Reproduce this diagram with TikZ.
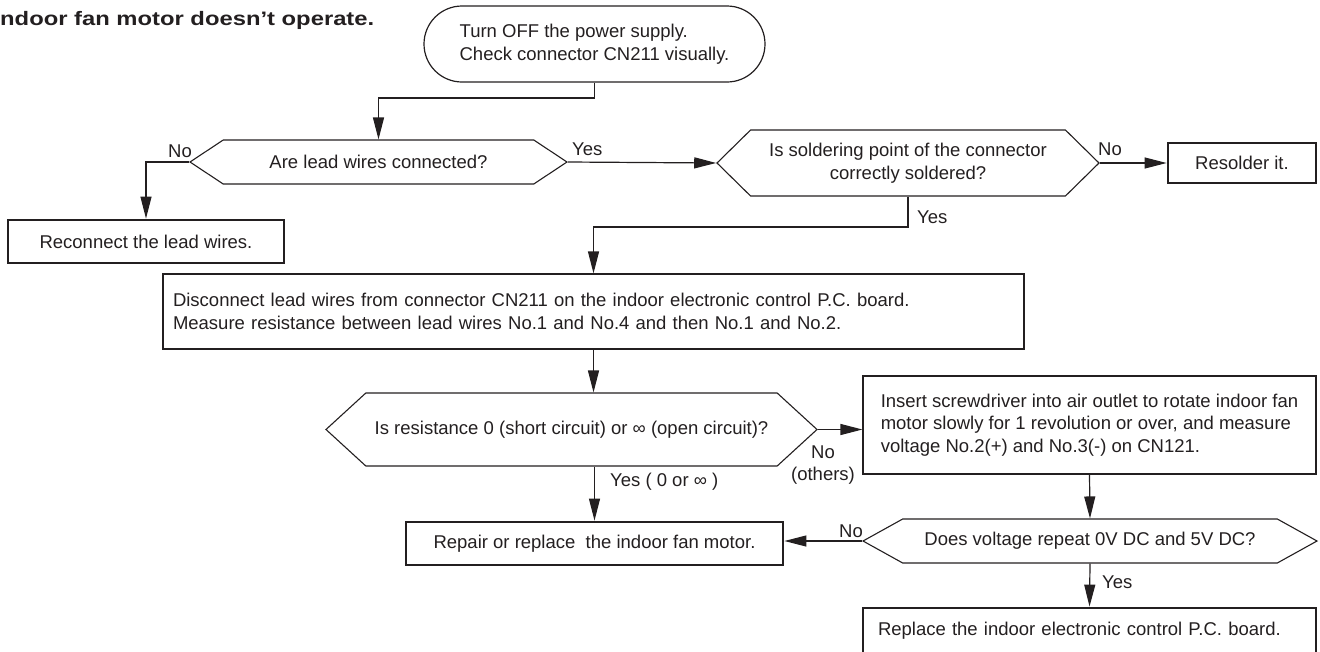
\documentclass[tikz,border=0pt]{standalone}
\usepackage{fontspec}
\setmainfont{Liberation Sans}
\usepackage{tikz}
\usetikzlibrary{arrows,arrows.meta,calc,positioning,shapes}

\definecolor{ink}{HTML}{231F20}

\begin{document}
\begin{tikzpicture}[x=1pt,y=-1pt,color=ink,>={Triangle[length=22pt,width=11pt]},
	font=\fontsize{18.5}{22.5}\selectfont]
	\tikzstyle{block} = [draw, rectangle, line width=1.2pt, inner sep=0pt, align=center]
	\tikzstyle{endblock} = [block, line width=2.8pt]
	\tikzstyle{decision} = [draw, signal, signal to=west and east, line width=1.1pt, inner sep=0pt, align=center]
	\tikzstyle{line} = [line width=1.2pt]
	\tikzstyle{tag} = [inner sep=0pt, anchor=base west]

	\useasboundingbox (0,0) rectangle (1320,651);
	\clip (0,0) rectangle (1320,651);

	% heading
	\node [tag, font=\fontsize{19.5}{22}\selectfont\bfseries] (title) at (0,25.5) {\scalebox{1.22}[1]{ndoor fan motor doesn’t operate.}};

	% boxes and questions
	\node [block, rounded corners=38pt, minimum width=341pt, minimum height=76pt, align=left] (start) at (594.5,44) {Turn OFF the power supply.\\Check connector CN211 visually.};
	\node [decision, signal pointer angle=67, minimum width=377pt, minimum height=44pt] (q1) at (378.5,162) {Are lead wires connected?};
	\node [endblock, minimum width=276pt, minimum height=43pt] (reconnect) at (146,241.5) {Reconnect the lead wires.};
	\node [decision, signal pointer angle=89, minimum width=382pt, minimum height=66pt] (q2) at (908,163) {Is soldering point of the connector\\correctly soldered?};
	\node [endblock, minimum width=148pt, minimum height=40pt] (resolder) at (1242,163) {Resolder it.};
	\node [block, minimum width=861pt, minimum height=75pt, text width=841pt, align=left] (meas) at (593.5,311.5) {Disconnect lead wires from connector CN211 on the indoor electronic control P.C. board.\\Measure resistance between lead wires No.1 and No.4 and then No.1 and No.2.};
	\node [decision, signal pointer angle=85, minimum width=491pt, minimum height=73pt] (q3) at (571.5,429.5) {Is resistance 0 (short circuit) or ∞ (open circuit)?};
	\node [block, minimum width=453pt, minimum height=98pt, align=left] (insert) at (1089.5,425) {Insert screwdriver into air outlet to rotate indoor fan\\motor slowly for 1 revolution or over, and measure\\voltage No.2(+) and No.3(-) on CN121.};
	\node [endblock, minimum width=377pt, minimum height=43pt] (repair) at (594.5,543.5) {Repair or replace\ \ the indoor fan motor.};
	\node [decision, signal pointer angle=58, minimum width=454pt, minimum height=44pt] (q4) at (1090,541) {Does voltage repeat 0V DC and 5V DC?};
	\node [endblock, minimum width=453pt, minimum height=46pt, text width=423pt, align=left] (replace) at (1089.5,631) {Replace the indoor electronic control P.C. board.};

	% answers
	\node [tag] (no1) at (168,157) {No};
	\node [tag] (yes1) at (572,155) {Yes};
	\node [tag] (no2) at (1098,155) {No};
	\node [tag] (yes2) at (917,223) {Yes};
	\node [tag] (yes3) at (610,486) {Yes ( 0 or ∞ )};
	\node [inner sep=0pt, anchor=base, align=center] (no3) at (823,480.5) {No\\(others)};
	\node [tag] (no4) at (839,537) {No};
	\node [tag] (yes4) at (1102,588) {Yes};

	% connectors
	\coordinate (c0) at (594.5,98);
	\coordinate (c1) at (908,227);
	\draw [line,->] (start.south) -- (c0) -| (q1.north);
	\draw [line,->] (q1.west) -| (reconnect.north);
	\draw [line,->] (q1.east) -- (q2.west);
	\draw [line,->] (q2.east) -- (resolder.west);
	\draw [line,->] (q2.south) -- (c1) -| (meas.north);
	\draw [line,->] (meas.south) -- (meas.south |- q3.north);
	\draw [line,->] (repair.north |- q3.south) -- (repair.north);
	\draw [line,->] (q3.east) -- (q3.east -| insert.west);
	\draw [line,->] (insert.south) -- (q4.north);
	\draw [line,->] (q4.west) -- (q4.west -| repair.east);
	\draw [line,->] (q4.south) -- (replace.north);
\end{tikzpicture}
\end{document}
